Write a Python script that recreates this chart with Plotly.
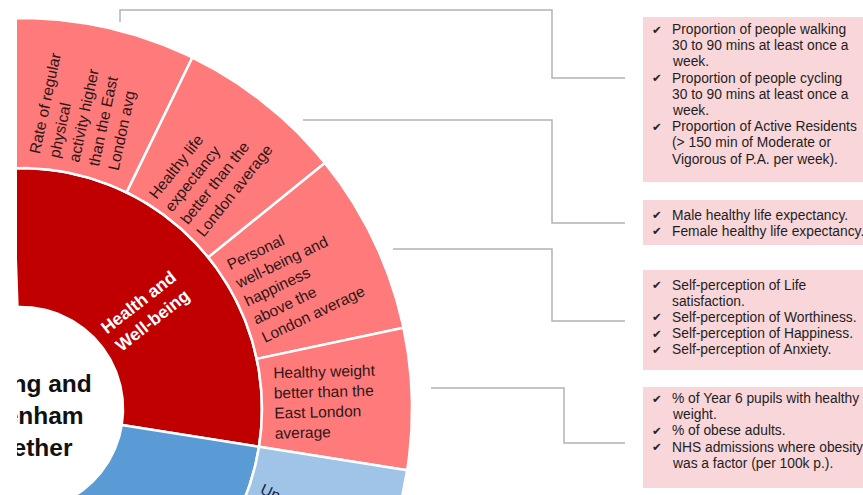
import numpy as np
import plotly.graph_objects as go

# ---------------- data ----------------
theme_names = ["Health and Well-being", ""]          # second theme's label lies off the crop
theme_sizes = [101, 60]                                # angular weights (degrees)
theme_colors = ["#c00000", "#5b9bd5"]

outcome_labels = [
    "Rate of regular<br>physical<br>activity higher<br>than the East<br>London avg",
    "Healthy life<br>expectancy<br>better than the<br>London average",
    "Personal<br>well-being and<br>happiness<br>above the<br>London average",
    "Healthy weight<br>better than the<br>East London<br>average",
    "Unemployment<br>rate lower than<br>the London<br>average",
]
outcome_sizes = [28, 25, 27, 21, 32]
outcome_theme = [0, 0, 0, 0, 1]
outcome_colors = ["#ff7b7b", "#ff7b7b", "#ff7b7b", "#ff7b7b", "#9fc4e8"]
outcome_text_colors = ["#2e1616", "#2e1616", "#2e1616", "#2e1616", "#14203a"]

indicator_boxes = [
    [["Proportion of people walking", "30 to 90 mins at least once a", "week."],
     ["Proportion of people cycling", "30 to 90 mins at least once a", "week."],
     ["Proportion of Active Residents", "(> 150 min of Moderate or", "Vigorous of P.A. per week)."]],
    [["Male healthy life expectancy."],
     ["Female healthy life expectancy."]],
    [["Self-perception of Life", "satisfaction."],
     ["Self-perception of Worthiness."],
     ["Self-perception of Happiness."],
     ["Self-perception of Anxiety."]],
    [["% of Year 6 pupils with healthy", "weight."],
     ["% of obese adults."],
     ["NHS admissions where obesity", "was a factor (per 100k p.)."]],
]

title_lines = ["Barking and", "Dagenham", "Together"]

# ---------------- layout / style ----------------
W, H = 863, 495
LEFT = 17
CX, CY = 21, 409
ROTATION = 92            # angle where the first segment starts (clockwise)
R_HOLE, R_MID, R_OUT = 102, 241, 391
R_TEXT = 304
HEALTH_LABEL = dict(angle=38, r=158)

box_geo = [  # (top, bottom, first line centre)
    (17, 182, 29.5),
    (200, 245, 215),
    (270, 370, 285),
    (387, 488, 398.5),
]
LINE_PITCH = 16.2
BOX_X0, BOX_X1 = 643, 880
CHECK_X, TEXT_X = 650, 670

connectors = [
    [(120, 22), (120, 10), (552, 10), (552, 78), (625, 78)],
    [(303, 120), (552, 120), (552, 223), (625, 223)],
    [(393, 249), (552, 249), (552, 321), (625, 321)],
    [(431, 388), (564, 388), (564, 443), (625, 443)],
]

FONT = "Liberation Sans, Arial, Helvetica, sans-serif"


def wedge(a0, a1, r0, r1, n=80):
    th = np.radians(np.linspace(a0, a1, n))
    xo = CX + r1 * np.cos(th)
    yo = CY - r1 * np.sin(th)
    xi = CX + r0 * np.cos(th[::-1])
    yi = CY - r0 * np.sin(th[::-1])
    x = np.concatenate([xo, xi, xo[:1]])
    y = np.concatenate([yo, yi, yo[:1]])
    return x, y


def to_paper(x, y):
    return (x - LEFT) / (W - LEFT), (H - y) / H


fig = go.Figure()

# inner ring (themes), clockwise from ROTATION
theme_start = {}
a = ROTATION
for i, s in enumerate(theme_sizes):
    theme_start[i] = a
    x, y = wedge(a, a - s, R_HOLE, R_MID)
    fig.add_trace(go.Scatter(x=x, y=y, fill="toself", fillcolor=theme_colors[i],
                             mode="lines", line=dict(color="white", width=2.5),
                             hoverinfo="skip", showlegend=False))
    a -= s

# outer ring (outcomes)
annotations = []
pos = dict(theme_start)
for lab, s, t, c, tc in zip(outcome_labels, outcome_sizes, outcome_theme,
                            outcome_colors, outcome_text_colors):
    a0 = pos[t]
    a1 = a0 - s
    pos[t] = a1
    x, y = wedge(a0, a1, R_MID, R_OUT)
    fig.add_trace(go.Scatter(x=x, y=y, fill="toself", fillcolor=c,
                             mode="lines", line=dict(color="white", width=2.5),
                             hoverinfo="skip", showlegend=False))
    mid = (a0 + a1) / 2
    tx = CX + R_TEXT * np.cos(np.radians(mid))
    ty = CY - R_TEXT * np.sin(np.radians(mid))
    px, py = to_paper(tx, ty)
    annotations.append(dict(x=px, y=py, xref="paper", yref="paper", text=lab,
                            showarrow=False, textangle=-mid, align="left",
                            xanchor="center", yanchor="middle",
                            font=dict(family=FONT, size=15.5, color=tc)))

# theme label
hx = CX + HEALTH_LABEL["r"] * np.cos(np.radians(HEALTH_LABEL["angle"]))
hy = CY - HEALTH_LABEL["r"] * np.sin(np.radians(HEALTH_LABEL["angle"]))
annotations.append(dict(x=hx, y=hy, xref="x", yref="y",
                        text="<b>" + theme_names[0].replace(" and ", " and<br>") + "</b>",
                        showarrow=False,
                        textangle=-HEALTH_LABEL["angle"], align="center",
                        font=dict(family=FONT, size=17.5, color="white")))

# centre title (scatter text so it is clipped by the plot area like the reference crop)
fig.add_trace(go.Scatter(x=[CX], y=[418], mode="text",
                         text=["<b>" + "<br>".join(title_lines) + "</b>"],
                         textposition="middle center", cliponaxis=True,
                         textfont=dict(family=FONT, size=24.5, color="#111111"),
                         hoverinfo="skip", showlegend=False))

shapes = []
# connector lines
for pts in connectors:
    path = "M " + " L ".join(f"{px},{py}" for px, py in pts)
    shapes.append(dict(type="path", path=path, xref="x", yref="y",
                       line=dict(color="#b3b3b3", width=1.5)))

# indicator boxes
for (top, bot, first), bullets in zip(box_geo, indicator_boxes):
    shapes.append(dict(type="rect", xref="x", yref="y", x0=BOX_X0, x1=BOX_X1,
                       y0=top, y1=bot, fillcolor="#f9d6d9", line=dict(width=0),
                       layer="below"))
    k = 0
    for bullet in bullets:
        for j, line in enumerate(bullet):
            yy = first + k * LINE_PITCH
            if j == 0:
                annotations.append(dict(x=CHECK_X, y=yy, xref="x", yref="y", text="✔",
                                        showarrow=False, xanchor="left", yanchor="middle",
                                        font=dict(family="DejaVu Sans", size=11.5, color="#222")))
            annotations.append(dict(x=TEXT_X, y=yy, xref="x", yref="y", text=line,
                                    showarrow=False, xanchor="left", yanchor="middle",
                                    font=dict(family=FONT, size=13.8, color="#1e1e1e")))
            k += 1

fig.update_layout(
    width=W, height=H,
    margin=dict(l=LEFT, r=0, t=0, b=0),
    paper_bgcolor="white", plot_bgcolor="white",
    xaxis=dict(range=[LEFT, W], visible=False, fixedrange=True),
    yaxis=dict(range=[H, 0], visible=False, fixedrange=True),
    shapes=shapes, annotations=annotations, showlegend=False,
)

fig.write_html("out.html")
